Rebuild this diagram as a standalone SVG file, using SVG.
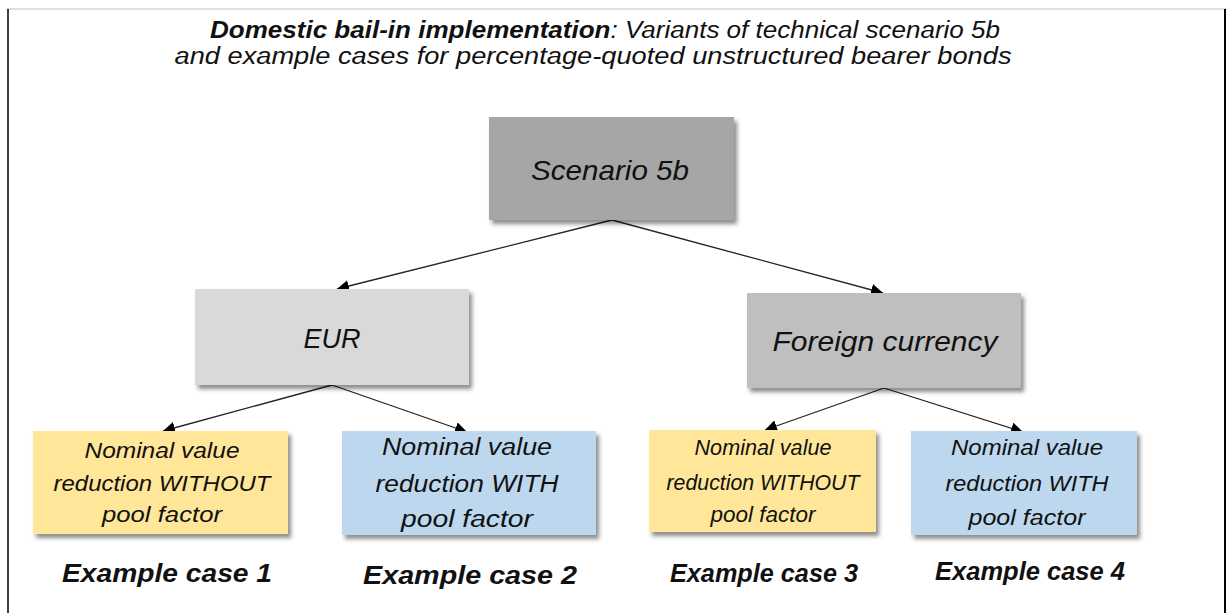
<svg xmlns="http://www.w3.org/2000/svg" width="1227" height="613" viewBox="0 0 1227 613">
<style>
.t{font-family:"Liberation Sans","Open Sans",sans-serif;font-style:italic;fill:#111;text-anchor:middle}
.b{font-weight:bold}
.c{stroke:#222;stroke-width:1.3;fill:none;marker-end:url(#ah)}
</style>
<defs>
<filter id="sh" x="-10%" y="-10%" width="130%" height="140%">
<feDropShadow dx="3" dy="4" stdDeviation="2" flood-color="#000" flood-opacity="0.45"/>
</filter>
<marker id="ah" viewBox="0 0 10 10" refX="10" refY="5" markerWidth="12" markerHeight="12" markerUnits="userSpaceOnUse" orient="auto">
<path d="M0,0 L10,5 L0,10 z" fill="#000"/>
</marker>
</defs>
<rect width="1227" height="613" fill="#fff"/>
<g id="frame">
<line x1="7" y1="9" x2="1226" y2="9" stroke="#bfbfbf" stroke-width="1"/>
<line x1="8" y1="9" x2="8" y2="613" stroke="#000" stroke-width="1.5"/>
<line x1="1225" y1="9" x2="1225" y2="613" stroke="#000" stroke-width="2"/>
</g>
<g id="title">
<text class="t" x="605" y="38" font-size="23.5" textLength="790" lengthAdjust="spacingAndGlyphs"><tspan class="b">Domestic bail-in implementation</tspan>:  Variants of technical scenario 5b</text>
<text class="t" x="593" y="64" font-size="23.5" textLength="837" lengthAdjust="spacingAndGlyphs">and example cases for percentage-quoted unstructured bearer bonds</text>
</g>
<g id="connectors">
<line class="c" x1="612" y1="220" x2="337" y2="289"/>
<line class="c" x1="612" y1="220" x2="883" y2="293"/>
<line class="c" x1="332" y1="385" x2="163" y2="431"/>
<line class="c" x1="332" y1="385" x2="467" y2="432"/>
<line class="c" x1="884" y1="388" x2="765" y2="430"/>
<line class="c" x1="884" y1="388" x2="1023" y2="432"/>
</g>
<g id="scenario5b">
<rect x="489" y="117" width="245" height="103" fill="#a6a6a6" filter="url(#sh)"/>
<text class="t" x="610" y="180" font-size="28" textLength="158" lengthAdjust="spacingAndGlyphs">Scenario 5b</text>
</g>
<g id="eur">
<rect x="195" y="289" width="274" height="96" fill="#d9d9d9" filter="url(#sh)"/>
<text class="t" x="332" y="348" font-size="27">EUR</text>
</g>
<g id="foreign">
<rect x="747" y="293" width="274" height="95" fill="#bfbfbf" filter="url(#sh)"/>
<text class="t" x="885" y="351" font-size="27" textLength="225" lengthAdjust="spacingAndGlyphs">Foreign currency</text>
</g>
<g id="case1box">
<rect x="33" y="431" width="255" height="103" fill="#ffe699" filter="url(#sh)"/>
<text class="t" x="162" y="458" font-size="22" textLength="155" lengthAdjust="spacingAndGlyphs">Nominal value</text>
<text class="t" x="162" y="491" font-size="22" textLength="217" lengthAdjust="spacingAndGlyphs">reduction WITHOUT</text>
<text class="t" x="162" y="522" font-size="22" textLength="120" lengthAdjust="spacingAndGlyphs">pool factor</text>
</g>
<g id="case2box">
<rect x="342" y="431" width="254" height="104" fill="#bdd7ee" filter="url(#sh)"/>
<text class="t" x="467" y="455" font-size="23" textLength="170" lengthAdjust="spacingAndGlyphs">Nominal value</text>
<text class="t" x="467" y="492" font-size="23" textLength="183" lengthAdjust="spacingAndGlyphs">reduction WITH</text>
<text class="t" x="467" y="527" font-size="23" textLength="132" lengthAdjust="spacingAndGlyphs">pool factor</text>
</g>
<g id="case3box">
<rect x="649" y="430" width="227" height="102" fill="#ffe699" filter="url(#sh)"/>
<text class="t" x="763" y="455" font-size="22" textLength="137" lengthAdjust="spacingAndGlyphs">Nominal value</text>
<text class="t" x="763" y="490" font-size="22" textLength="193" lengthAdjust="spacingAndGlyphs">reduction WITHOUT</text>
<text class="t" x="763" y="522" font-size="22" textLength="105" lengthAdjust="spacingAndGlyphs">pool factor</text>
</g>
<g id="case4box">
<rect x="911" y="431" width="226" height="104" fill="#bdd7ee" filter="url(#sh)"/>
<text class="t" x="1027" y="455" font-size="22" textLength="152" lengthAdjust="spacingAndGlyphs">Nominal value</text>
<text class="t" x="1027" y="491" font-size="22" textLength="163" lengthAdjust="spacingAndGlyphs">reduction WITH</text>
<text class="t" x="1027" y="525" font-size="22" textLength="117" lengthAdjust="spacingAndGlyphs">pool factor</text>
</g>
<g id="labels">
<text class="t b" x="167" y="582" font-size="25" textLength="210" lengthAdjust="spacingAndGlyphs">Example  case  1</text>
<text class="t b" x="470" y="584" font-size="25" textLength="214" lengthAdjust="spacingAndGlyphs">Example  case  2</text>
<text class="t b" x="764" y="582" font-size="25" textLength="188" lengthAdjust="spacingAndGlyphs">Example  case  3</text>
<text class="t b" x="1030" y="580" font-size="25" textLength="190" lengthAdjust="spacingAndGlyphs">Example  case  4</text>
</g>
</svg>
